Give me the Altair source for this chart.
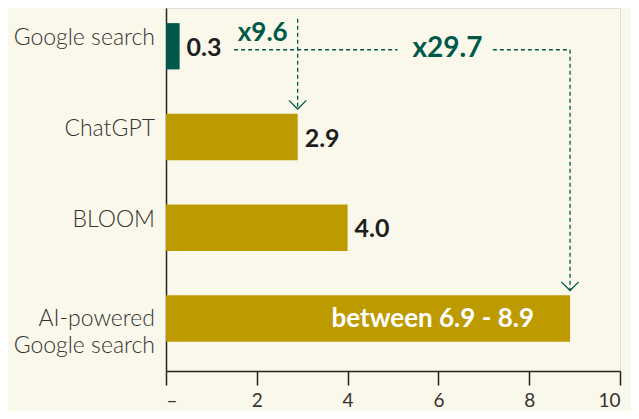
import altair as alt
import pandas as pd

# ---- data ----
categories = ["Google search", "ChatGPT", "BLOOM", "AI-powered\nGoogle search"]
values = [0.3, 2.9, 4.0, 8.9]
value_labels = ["0.3", "2.9", "4.0", "between 6.9 - 8.9"]
bar_colors = ["#005848", "#BD9A00", "#BD9A00", "#BD9A00"]
x_ticks = [0, 2, 4, 6, 8, 10]
ratio_labels = ["x9.6", "x29.7"]

GREEN = "#005848"
BG = "#FAF8EA"
FONT = "Lato"

df = pd.DataFrame({"category": categories, "value": values, "label": value_labels})

xscale = alt.Scale(domain=[0, 10], nice=False, zero=True)
yscale = alt.Scale(domain=categories, paddingInner=0.49, paddingOuter=0.245, align=0.34)

xaxis = alt.Axis(values=x_ticks, labelExpr="datum.value == 0 ? '–' : datum.label",
                 tickSize=14, tickColor="#222222", tickWidth=1.5,
                 domainColor="#222222", domainWidth=1.5, grid=False,
                 labelFontSize=19, labelColor="#333333", labelPadding=6,
                 labelFont=FONT, title=None)
yaxis = alt.Axis(labels=False, ticks=False, domainColor="#222222", domainWidth=1.5,
                 grid=False, title=None)

base = alt.Chart(df)
Y = alt.Y("category:N", scale=yscale, sort=categories)

bars = base.mark_bar().encode(
    x=alt.X("value:Q", scale=xscale, axis=xaxis),
    y=alt.Y("category:N", scale=yscale, axis=yaxis, sort=categories),
    color=alt.Color("category:N", scale=alt.Scale(domain=categories, range=bar_colors), legend=None),
)

# category labels (left of axis)
cat_single = base.transform_filter("indexof(datum.category, '\\n') < 0").mark_text(
    align="right", baseline="alphabetic", dx=-11, dy=-1, fontSize=23, font=FONT,
    fontWeight=300, color="#333333"
).encode(x=alt.X(datum=0, scale=xscale), y=Y, text="category:N")

cat_multi = base.transform_filter("indexof(datum.category, '\\n') >= 0").mark_text(
    align="right", baseline="middle", dx=-11, fontSize=23, font=FONT, lineBreak="\n",
    lineHeight=27, fontWeight=300, color="#333333"
).encode(x=alt.X(datum=0, scale=xscale), y=Y, text="category:N")

# value labels
val_out = base.transform_filter("indexof(datum.label, 'between') < 0").mark_text(
    align="left", baseline="middle", dx=7, dy=1.5, fontSize=25, fontWeight="bold", font=FONT, color="#1E1E1E"
).encode(x=alt.X("value:Q", scale=xscale), y=Y, text="label:N")

val_in = base.transform_filter("indexof(datum.label, 'between') >= 0").mark_text(
    align="right", baseline="middle", dx=-36, fontSize=26, fontWeight="bold", font=FONT, color="white"
).encode(x=alt.X("value:Q", scale=xscale), y=Y, text="label:N")

# annotations
dash = [4, 3]
h_df = pd.DataFrame({"x1": [1.5, 7.2], "x2": [5.1, values[3]], "category": [categories[0]] * 2})
h_rules = alt.Chart(h_df).mark_rule(color=GREEN, strokeDash=dash, strokeWidth=1.3, yOffset=3.5).encode(
    x=alt.X("x1:Q", scale=xscale), x2="x2:Q", y=Y)

v1_df = pd.DataFrame({"x": [values[1]], "c1": [categories[0]], "c2": [categories[1]]})
v1 = alt.Chart(v1_df).mark_rule(color=GREEN, strokeDash=dash, strokeWidth=1.3, yOffset=-27.6, y2Offset=-28).encode(
    x=alt.X("x:Q", scale=xscale), y=alt.Y("c1:N", scale=yscale, sort=categories), y2="c2:N")

v2_df = pd.DataFrame({"x": [values[3]], "c1": [categories[0]], "c2": [categories[3]]})
v2 = alt.Chart(v2_df).mark_rule(color=GREEN, strokeDash=dash, strokeWidth=1.3, yOffset=3.5, y2Offset=-28).encode(
    x=alt.X("x:Q", scale=xscale), y=alt.Y("c1:N", scale=yscale, sort=categories), y2="c2:N")

head_df = pd.DataFrame({"x": [values[1], values[3]], "category": [categories[1], categories[3]]})
heads = alt.Chart(head_df).mark_point(shape="M-1,-1L0,0L1,-1", size=300, filled=False, color=GREEN,
                                       strokeWidth=1.3, opacity=1, yOffset=-28).encode(
    x=alt.X("x:Q", scale=xscale), y=Y)

r1_df = pd.DataFrame({"x": [2.13], "category": [categories[0]], "t": [ratio_labels[0]]})
r1 = alt.Chart(r1_df).mark_text(baseline="middle", align="center", dy=-13, fontSize=26, fontWeight="bold",
                                font=FONT, color=GREEN).encode(
    x=alt.X("x:Q", scale=xscale), y=Y, text="t:N")

r2_df = pd.DataFrame({"x": [6.2], "category": [categories[0]], "t": [ratio_labels[1]]})
r2 = alt.Chart(r2_df).mark_text(baseline="middle", align="center", dy=3, fontSize=28, fontWeight="bold",
                                font=FONT, color=GREEN).encode(
    x=alt.X("x:Q", scale=xscale), y=Y, text="t:N")

chart = alt.layer(bars, h_rules, v1, v2, heads, cat_single, cat_multi, val_out, val_in, r1, r2).properties(
    width=454, height=363,
    autosize=alt.AutoSizeParams(type="none"),
    padding={"left": 158, "top": 0, "right": 11, "bottom": 40},
    background=BG,
).configure_view(stroke=None).configure(font=FONT)

chart.save("out.html", embed_options={"renderer": "svg", "actions": False})
